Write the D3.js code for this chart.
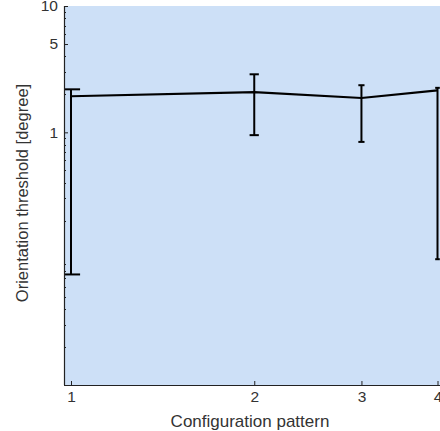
<!DOCTYPE html>
<html>
<head>
<meta charset="utf-8">
<script src="https://cdn.jsdelivr.net/npm/d3@7"></script>
<style>
  html, body { margin: 0; padding: 0; background: #ffffff; }
  svg { display: block; font-family: "Liberation Sans", Arial, sans-serif; }
</style>
</head>
<body>
<svg id="chart" width="440" height="431"></svg>
<script>
// Orientation threshold per configuration pattern, with error bounds
const patterns = [1, 2, 3, 4];
const threshold = [1.93, 2.08, 1.87, 2.15];
const upper = [2.19, 2.88, 2.36, 2.25];
const lower = [0.075, 0.95, 0.84, 0.099];

const xTicks = [1, 2, 3, 4];
const yTicks = [1, 5, 10];
// unlabelled minor ticks on the log axis
const yMinor = [0.02, 0.03, 0.04, 0.05, 0.06, 0.07, 0.08, 0.09,
                0.2, 0.3, 0.4, 0.5, 0.6, 0.7, 0.8, 0.9,
                2, 3, 4, 6, 7, 8, 9];

const svg = d3.select("#chart");
const plot = { left: 64, top: 6, bottom: 385, right: 450 };

const x = d3.scaleLog().domain([1, 4]).range([71, 437.5]);
const y = d3.scaleLog().domain([0.01, 10]).range([plot.bottom, plot.top]);
const capW = 0.035; // error-bar cap half width, in pattern units

svg.append("defs").append("clipPath").attr("id", "plotClip")
  .append("rect")
  .attr("x", plot.left).attr("y", plot.top)
  .attr("width", plot.right - plot.left)
  .attr("height", plot.bottom - plot.top);

// plot background
svg.append("rect")
  .attr("x", plot.left).attr("y", plot.top)
  .attr("width", plot.right - plot.left)
  .attr("height", plot.bottom - plot.top)
  .attr("fill", "#cde0f7");

const rows = patterns.map((p, i) => ({ p, v: threshold[i], hi: upper[i], lo: lower[i] }));
const marks = svg.append("g").attr("clip-path", "url(#plotClip)");

// mean line
marks.append("path")
  .datum(rows)
  .attr("fill", "none")
  .attr("stroke", "#000")
  .attr("stroke-width", 2.2)
  .attr("d", d3.line().x(d => x(d.p)).y(d => y(d.v)));

// error bars
const eb = marks.append("g").attr("stroke", "#000").attr("stroke-width", 2);
eb.selectAll("line.v").data(rows).join("line")
  .attr("class", "v")
  .attr("x1", d => x(d.p)).attr("x2", d => x(d.p))
  .attr("y1", d => y(d.hi)).attr("y2", d => y(d.lo));
eb.selectAll("line.hi").data(rows).join("line")
  .attr("class", "hi")
  .attr("x1", d => x(d.p - capW)).attr("x2", d => x(d.p + capW))
  .attr("y1", d => y(d.hi)).attr("y2", d => y(d.hi));
eb.selectAll("line.lo").data(rows).join("line")
  .attr("class", "lo")
  .attr("x1", d => x(d.p - capW)).attr("x2", d => x(d.p + capW))
  .attr("y1", d => y(d.lo)).attr("y2", d => y(d.lo));

// axes with inward ticks
const yAxis = svg.append("g")
  .attr("transform", `translate(${plot.left},0)`)
  .call(d3.axisLeft(y).tickValues(yTicks).tickFormat(d3.format("d"))
    .tickSizeInner(-4).tickSizeOuter(0).tickPadding(6));
yAxis.selectAll("line.minor").data(yMinor).join("line")
  .attr("class", "minor")
  .attr("x1", 0).attr("x2", 2)
  .attr("y1", d => Math.round(y(d)) + 0.5).attr("y2", d => Math.round(y(d)) + 0.5)
  .attr("stroke", "#222");

const xAxis = svg.append("g")
  .attr("transform", `translate(0,${plot.bottom})`)
  .call(d3.axisBottom(x).tickValues(xTicks).tickFormat(d3.format("d"))
    .tickSizeInner(-4).tickSizeOuter(0).tickPadding(6));

[yAxis, xAxis].forEach(g => {
  g.select(".domain").attr("stroke", "#222").attr("stroke-width", 1.2);
  g.selectAll(".tick line").attr("stroke", "#222");
  g.selectAll(".tick text").attr("fill", "#333").attr("font-size", 15.5)
    .attr("font-family", "'Liberation Sans', Arial, sans-serif");
});
yAxis.select(".domain").attr("d", `M0.5,${plot.top}V${plot.bottom}`);
xAxis.select(".domain").attr("d", `M${plot.left},0.5H${plot.right}`);

// axis titles
svg.append("text")
  .attr("x", 250).attr("y", 427)
  .attr("text-anchor", "middle")
  .attr("fill", "#333").attr("font-size", 17)
  .text("Configuration pattern");
svg.append("text")
  .attr("transform", "translate(28,193) rotate(-90)")
  .attr("text-anchor", "middle")
  .attr("fill", "#333").attr("font-size", 16.5)
  .text("Orientation threshold [degree]");
</script>
</body>
</html>
